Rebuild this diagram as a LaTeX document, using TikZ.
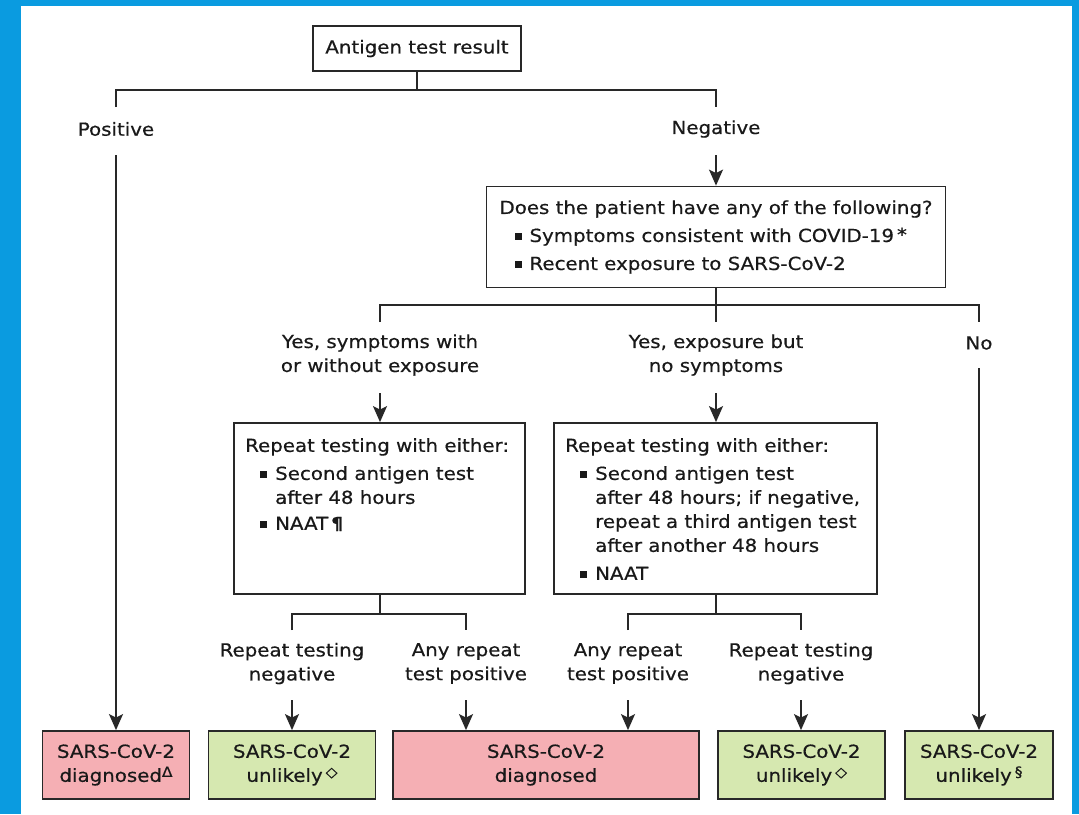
\documentclass[tikz,border=0pt]{standalone}
\usepackage{fontspec}
\setmainfont{DejaVu Sans}[FakeStretch=1.1,FakeBold=0.5]
\usetikzlibrary{arrows.meta}
\definecolor{frameblue}{RGB}{10,155,224}
\definecolor{pinkbox}{RGB}{245,175,180}
\definecolor{greenbox}{RGB}{214,232,176}
\definecolor{linec}{RGB}{40,40,40}
\definecolor{txtc}{RGB}{25,25,25}
\newcommand{\mybullet}{\hspace*{15pt}\rule[2pt]{7pt}{7pt}\hspace{8pt}}
\newcommand{\myindent}{\hspace*{30pt}}
\newcommand{\mysup}[1]{\raisebox{5pt}{\fontsize{14}{14}\selectfont #1}}
\begin{document}
\begin{tikzpicture}[x=1pt,y=-1pt,
  every node/.style={font=\fontsize{18}{24}\selectfont, text=txtc, inner sep=0pt},
  box/.style={draw=linec, line width=1.8pt, rectangle},
  pinkb/.style={box, fill=pinkbox, minimum height=68pt, align=center},
  greenb/.style={box, fill=greenbox, minimum height=68pt, align=center},
  conn/.style={draw=linec, line width=1.7pt},
  arr/.style={conn, -{Stealth[length=16pt,width=14pt,inset=3.5pt]}},
  lbl/.style={align=center}
]
\useasboundingbox (0,0) rectangle (1079,814);
\fill[frameblue] (0,0) rectangle (1079,814);
\fill[white] (21,6) rectangle (1072,814);

% top
\node[box, minimum width=208pt, minimum height=45pt] (top) at (417,48.5) {Antigen test result};
\node (pos) at (116,129) {Positive};
\node (neg) at (716,129) {Negative};
\coordinate (jt) at (417,90);
\coordinate (tL) at (116,107);
\coordinate (tR) at (716,107);
\draw[conn] (top.south) -- (jt);
\draw[conn] (tL) |- (jt) -| (tR);

% question box
\node[box, minimum width=459pt, minimum height=101pt, align=left] (q) at (716,237)
 {Does the patient have any of the following?\\[4pt]
  \mybullet Symptoms consistent with COVID-19\,\raisebox{1pt}{*}\\[4pt]
  \mybullet Recent exposure to SARS-CoV-2};
\coordinate (na) at (716,155);
\draw[arr] (na) -- (q.north);

\coordinate (jq) at (716,305);
\coordinate (qC) at (716,322);
\coordinate (qL) at (380,322);
\coordinate (qR) at (979,322);
\draw[conn] (q.south) -- (qC);
\draw[conn] (qL) |- (jq) -| (qR);

\node[lbl] (ys) at (380,355) {Yes, symptoms with\\or without exposure};
\node[lbl] (ye) at (716,355) {Yes, exposure but\\no symptoms};
\node (no) at (979,343) {No};

% repeat boxes
\node[box, minimum width=291pt, minimum height=171pt] (r1) at (379.5,508.5) {};
\node[anchor=north west, align=left] (r1t) at (245,438)
 {Repeat testing with either:\\[4pt]
  \mybullet Second antigen test\\
  \myindent after 48 hours\\[2pt]
  \mybullet NAAT\,\raisebox{0.5pt}{\fontsize{17}{17}\selectfont\bfseries ¶}};
\node[box, minimum width=323pt, minimum height=171pt] (r2) at (715.5,508.5) {};
\node[anchor=north west, align=left] (r2t) at (565,438)
 {Repeat testing with either:\\[4pt]
  \mybullet Second antigen test\\
  \myindent after 48 hours; if negative,\\
  \myindent repeat a third antigen test\\
  \myindent after another 48 hours\\[4pt]
  \mybullet NAAT};

\coordinate (a1) at (380,393);
\coordinate (a2) at (716,393);
\draw[arr] (a1) -- (r1.north -| a1);
\draw[arr] (a2) -- (r2.north -| a2);

% branches below repeat boxes
\coordinate (j1) at (380,614);
\coordinate (l1) at (292,630);
\coordinate (l2) at (466,630);
\draw[conn] (r1.south -| j1) -- (j1);
\draw[conn] (l1) |- (j1) -| (l2);
\coordinate (j2) at (716,614);
\coordinate (l3) at (628,630);
\coordinate (l4) at (801,630);
\draw[conn] (r2.south -| j2) -- (j2);
\draw[conn] (l3) |- (j2) -| (l4);

\node[lbl] (b1) at (292,663.5) {Repeat testing\\negative};
\node[lbl] (b2) at (466,663.5) {Any repeat\\test positive};
\node[lbl] (b3) at (628,663.5) {Any repeat\\test positive};
\node[lbl] (b4) at (801,663.5) {Repeat testing\\negative};

% bottom boxes
\node[pinkb, minimum width=147pt] (d1) at (116,765) {SARS-CoV-2\\diagnosed\mysup{Δ}};
\node[greenb, minimum width=167pt] (u1) at (292,765) {SARS-CoV-2\\unlikely\,\mysup{◇}};
\node[pinkb, minimum width=306pt] (d2) at (546,765) {SARS-CoV-2\\diagnosed};
\node[greenb, minimum width=167pt] (u2) at (801.5,765) {SARS-CoV-2\\unlikely\,\mysup{◇}};
\node[greenb, minimum width=148pt] (u3) at (979,765) {SARS-CoV-2\\unlikely\,\mysup{§}};

\coordinate (pa) at (116,155);
\draw[arr] (pa) -- (d1.north);
\coordinate (noa) at (979,368);
\draw[arr] (noa) -- (u3.north);

\coordinate (c1) at (292,700);
\coordinate (c2) at (466,700);
\coordinate (c3) at (628,700);
\coordinate (c4) at (801,700);
\draw[arr] (c1) -- (u1.north -| c1);
\draw[arr] (c2) -- (d2.north -| c2);
\draw[arr] (c3) -- (d2.north -| c3);
\draw[arr] (c4) -- (u2.north -| c4);
\end{tikzpicture}
\end{document}
